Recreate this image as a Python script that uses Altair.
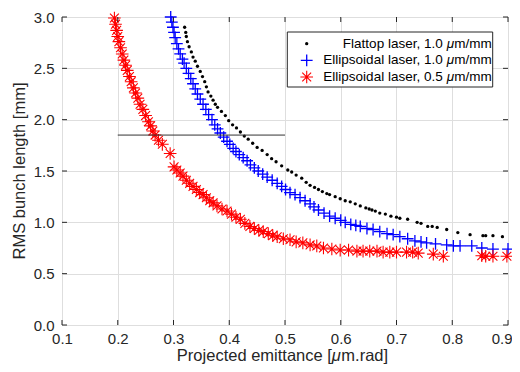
import altair as alt
import pandas as pd

# ---------------- data ----------------
flat_x = [0.320, 0.322, 0.323, 0.325, 0.328, 0.332, 0.335, 0.339, 0.343, 0.348,
          0.352, 0.356, 0.359, 0.362, 0.367, 0.371, 0.375, 0.379, 0.386, 0.393,
          0.399, 0.406, 0.413, 0.420, 0.427, 0.434, 0.442, 0.450, 0.459, 0.468,
          0.476, 0.484, 0.494, 0.505, 0.512, 0.520, 0.530, 0.538, 0.545, 0.553,
          0.560, 0.567, 0.575, 0.580, 0.590, 0.599, 0.608, 0.617, 0.626, 0.635,
          0.645, 0.651, 0.656, 0.662, 0.670, 0.680, 0.690, 0.700, 0.706, 0.720,
          0.737, 0.744, 0.756, 0.764, 0.773, 0.790, 0.810, 0.832, 0.855, 0.860,
          0.873, 0.890]
flat_y = [2.90, 2.85, 2.81, 2.76, 2.71, 2.66, 2.61, 2.57, 2.52, 2.47,
          2.42, 2.37, 2.32, 2.27, 2.23, 2.19, 2.15, 2.12, 2.08, 2.04,
          1.99, 1.95, 1.92, 1.88, 1.84, 1.81, 1.77, 1.73, 1.70, 1.66,
          1.62, 1.59, 1.55, 1.51, 1.49, 1.46, 1.43, 1.39, 1.36, 1.34,
          1.32, 1.30, 1.28, 1.27, 1.25, 1.23, 1.21, 1.20, 1.18, 1.16,
          1.14, 1.13, 1.12, 1.11, 1.09, 1.08, 1.06, 1.05, 1.04, 1.03,
          1.00, 0.99, 0.96, 0.96, 0.95, 0.93, 0.90, 0.88, 0.87, 0.87,
          0.87, 0.86]

ell1_x = [0.295, 0.297, 0.299, 0.301, 0.303, 0.306, 0.309, 0.312, 0.316, 0.319,
          0.323, 0.327, 0.331, 0.335, 0.339, 0.343, 0.348, 0.353, 0.358, 0.363,
          0.369, 0.374, 0.379, 0.384, 0.390, 0.396, 0.401, 0.407, 0.412, 0.418,
          0.425, 0.432, 0.438, 0.445, 0.452, 0.460, 0.468, 0.477, 0.486, 0.494,
          0.501, 0.509, 0.518, 0.527, 0.536, 0.545, 0.552, 0.560, 0.570, 0.580,
          0.590, 0.600, 0.608, 0.618, 0.627, 0.635, 0.647, 0.658, 0.670, 0.683,
          0.694, 0.706, 0.720, 0.733, 0.744, 0.754, 0.770, 0.790, 0.802, 0.814,
          0.835, 0.853, 0.873, 0.900]
ell1_y = [3.00, 2.95, 2.90, 2.85, 2.80, 2.74, 2.69, 2.64, 2.59, 2.55,
          2.50, 2.45, 2.40, 2.35, 2.30, 2.25, 2.20, 2.15, 2.10, 2.05,
          2.00, 1.95, 1.91, 1.87, 1.83, 1.79, 1.76, 1.72, 1.69, 1.66,
          1.63, 1.60, 1.56, 1.53, 1.50, 1.47, 1.44, 1.41, 1.38, 1.35,
          1.32, 1.29, 1.27, 1.24, 1.21, 1.18, 1.15, 1.12, 1.09, 1.06,
          1.04, 1.02, 1.00, 0.98, 0.97, 0.96, 0.94, 0.93, 0.91, 0.89,
          0.88, 0.86, 0.84, 0.82, 0.81, 0.80, 0.79, 0.78, 0.77, 0.77,
          0.77, 0.75, 0.74, 0.74]

ell05_x = [0.194, 0.196, 0.198, 0.200, 0.202, 0.205, 0.208, 0.211, 0.214, 0.217,
           0.221, 0.224, 0.228, 0.232, 0.236, 0.240, 0.245, 0.250, 0.255, 0.259,
           0.263, 0.267, 0.273, 0.280, 0.294, 0.301, 0.306, 0.312, 0.317, 0.323,
           0.329, 0.335, 0.341, 0.347, 0.353, 0.359, 0.365, 0.371, 0.378, 0.387,
           0.396, 0.404, 0.412, 0.420, 0.428, 0.437, 0.445, 0.453, 0.461, 0.470,
           0.478, 0.486, 0.497, 0.509, 0.520, 0.532, 0.545, 0.557, 0.569, 0.584,
           0.599, 0.614, 0.629, 0.640, 0.652, 0.665, 0.676, 0.688, 0.700, 0.718,
           0.729, 0.739, 0.766, 0.784, 0.853, 0.860, 0.873, 0.898]
ell05_y = [2.99, 2.93, 2.87, 2.81, 2.76, 2.70, 2.64, 2.58, 2.53, 2.48,
           2.42, 2.37, 2.31, 2.26, 2.21, 2.15, 2.10, 2.04, 1.98, 1.94,
           1.89, 1.85, 1.80, 1.76, 1.67, 1.54, 1.51, 1.48, 1.45, 1.41,
           1.38, 1.35, 1.32, 1.29, 1.27, 1.24, 1.21, 1.19, 1.16, 1.13,
           1.11, 1.08, 1.05, 1.03, 0.99, 0.96, 0.94, 0.92, 0.91, 0.89,
           0.87, 0.86, 0.84, 0.83, 0.81, 0.80, 0.78, 0.77, 0.75, 0.74,
           0.73, 0.73, 0.72, 0.72, 0.72, 0.72, 0.71, 0.71, 0.71, 0.71,
           0.71, 0.70, 0.69, 0.67, 0.675, 0.67, 0.67, 0.67]

ref_line_x = [0.2, 0.5]
ref_line_y = [1.85]

x_ticks = [0.1, 0.2, 0.3, 0.4, 0.5, 0.6, 0.7, 0.8, 0.9]
y_ticks = [0.0, 0.5, 1.0, 1.5, 2.0, 2.5, 3.0]

legend_prefix = ["Flattop laser, 1.0", "Ellipsoidal laser, 1.0", "Ellipsoidal laser, 0.5"]
legend_unit_mu = "\u03bc"
legend_unit_rest = "m/mm"

x_title_parts = ["Projected emittance [", "\u03bc", "m.rad]"]
y_title = "RMS bunch length [mm]"

# ---------------- styling ----------------
W, H = 446, 308
FONT = "Liberation Sans"
AX = "#262626"
PLUS = "M-1,0L1,0M0,-1L0,1"
AST = "M-1,0L1,0M0,-1L0,1M-0.7,-0.7L0.7,0.7M-0.7,0.7L0.7,-0.7"
PLUS_SIZE = 140
AST_SIZE = 160

xs = alt.Scale(domain=[0.1, 0.9], nice=False, zero=False)
ys = alt.Scale(domain=[0, 3], nice=False, zero=False)
xaxis = alt.Axis(values=x_ticks, format=".1f", title=None, grid=True, ticks=False,
                 domain=False, labelPadding=6, labelFontSize=15, labelColor=AX,
                 labelFont=FONT, gridColor="#dedede", gridWidth=1,
                 labelAlign={"condition": {"test": "datum.value >= 0.89", "value": "right"},
                             "value": "center"},
                 labelOffset={"condition": {"test": "datum.value >= 0.89", "value": 4},
                              "value": 0})
yaxis = alt.Axis(values=y_ticks, format=".1f", title=None, grid=True, ticks=False,
                 domain=False, labelPadding=8, labelFontSize=15, labelColor=AX,
                 labelFont=FONT, gridColor="#dedede", gridWidth=1)
X = alt.X("x:Q", scale=xs, axis=xaxis)
Y = alt.Y("y:Q", scale=ys, axis=yaxis)

one = pd.DataFrame({"a": [0]})

flat = alt.Chart(pd.DataFrame({"x": flat_x, "y": flat_y})).mark_point(
    shape="circle", filled=True, size=11, color="black", opacity=1).encode(x=X, y=Y)
ell1 = alt.Chart(pd.DataFrame({"x": ell1_x, "y": ell1_y})).mark_point(
    shape=PLUS, filled=False, size=PLUS_SIZE, color="#0000ff", strokeWidth=1.3, opacity=1).encode(x=X, y=Y)
ell05 = alt.Chart(pd.DataFrame({"x": ell05_x, "y": ell05_y})).mark_point(
    shape=AST, filled=False, size=AST_SIZE, color="#ff0000", strokeWidth=1.1, opacity=1).encode(x=X, y=Y)

ref = alt.Chart(pd.DataFrame({"x": [ref_line_x[0]], "x2": [ref_line_x[1]], "y": ref_line_y})).mark_rule(
    color="#333333", strokeWidth=1).encode(x=X, x2="x2:Q", y=Y)

# inward ticks on all four sides
xt = pd.DataFrame({"x": x_ticks})
yt = pd.DataFrame({"y": y_ticks})
tk = dict(color=AX, strokeWidth=1)
ticks = [
    alt.Chart(xt).mark_rule(**tk).encode(x=X, y=alt.value(H), y2=alt.value(H - 5)),
    alt.Chart(xt).mark_rule(**tk).encode(x=X, y=alt.value(0), y2=alt.value(5)),
    alt.Chart(yt).mark_rule(**tk).encode(y=Y, x=alt.value(0), x2=alt.value(5)),
    alt.Chart(yt).mark_rule(**tk).encode(y=Y, x=alt.value(W), x2=alt.value(W - 5)),
]

# legend (manual, right-aligned labels with italic mu)
LX0, LX1, LY0, LY1 = 225.3, 430.7, 15, 70
rows_y = [26.7, 43.3, 60.0]
sym_x = 244.7
LFS = 13.5
right_edge = 429.7
w_rest = 2.777 * LFS
w_mu = 0.576 * LFS
w_sp = 0.278 * LFS

legend = [alt.Chart(one).mark_rect(fill="white", stroke=AX, strokeWidth=1).encode(
    x=alt.value(LX0), x2=alt.value(LX1), y=alt.value(LY0), y2=alt.value(LY1))]
legend.append(alt.Chart(one).mark_point(shape="circle", filled=True, size=11, color="black", opacity=1)
              .encode(x=alt.value(sym_x), y=alt.value(rows_y[0])))
legend.append(alt.Chart(one).mark_point(shape=PLUS, filled=False, size=PLUS_SIZE, color="#0000ff",
                                        strokeWidth=1.3, opacity=1)
              .encode(x=alt.value(sym_x), y=alt.value(rows_y[1])))
legend.append(alt.Chart(one).mark_point(shape=AST, filled=False, size=AST_SIZE, color="#ff0000",
                                        strokeWidth=1.1, opacity=1)
              .encode(x=alt.value(sym_x), y=alt.value(rows_y[2])))
for i, lab in enumerate(legend_prefix):
    ty = rows_y[i]
    legend.append(alt.Chart(one).mark_text(align="right", baseline="middle", font=FONT,
                                           fontSize=LFS, color="black")
                  .encode(x=alt.value(right_edge), y=alt.value(ty), text=alt.value(legend_unit_rest)))
    legend.append(alt.Chart(one).mark_text(align="right", baseline="middle", font=FONT,
                                           fontSize=LFS, fontStyle="italic", color="black")
                  .encode(x=alt.value(right_edge - w_rest), y=alt.value(ty), text=alt.value(legend_unit_mu)))
    legend.append(alt.Chart(one).mark_text(align="right", baseline="middle", font=FONT,
                                           fontSize=LFS, color="black")
                  .encode(x=alt.value(right_edge - w_rest - w_mu - w_sp), y=alt.value(ty), text=alt.value(lab)))

# axis titles
TFS = 16.5
pre_w = 9.393 * TFS
mu_w = 0.576 * TFS
title_cx = 220.5
t_left = title_cx - (pre_w + mu_w + 2.834 * TFS) / 2
t_y = 344
titles = [
    alt.Chart(one).mark_text(align="right", baseline="alphabetic", font=FONT, fontSize=TFS, color=AX)
    .encode(x=alt.value(t_left + pre_w), y=alt.value(t_y), text=alt.value(x_title_parts[0])),
    alt.Chart(one).mark_text(align="left", baseline="alphabetic", font=FONT, fontSize=TFS,
                             fontStyle="italic", color=AX)
    .encode(x=alt.value(t_left + pre_w), y=alt.value(t_y), text=alt.value(x_title_parts[1])),
    alt.Chart(one).mark_text(align="left", baseline="alphabetic", font=FONT, fontSize=TFS, color=AX)
    .encode(x=alt.value(t_left + pre_w + mu_w), y=alt.value(t_y), text=alt.value(x_title_parts[2])),
    alt.Chart(one).mark_text(align="center", baseline="middle", font=FONT, fontSize=TFS, color=AX, angle=270)
    .encode(x=alt.value(-42), y=alt.value(H / 2), text=alt.value(y_title)),
]

chart = alt.layer(flat, ell1, ell05, ref, *ticks, *legend, *titles).properties(
    width=W, height=H,
    autosize=alt.AutoSizeParams(type="none"),
    padding={"left": 54, "top": 9, "right": 4, "bottom": 39},
).configure_view(stroke=AX, strokeWidth=1).configure(background="white")

chart.save("out.html", embed_options={"renderer": "svg", "actions": False})
